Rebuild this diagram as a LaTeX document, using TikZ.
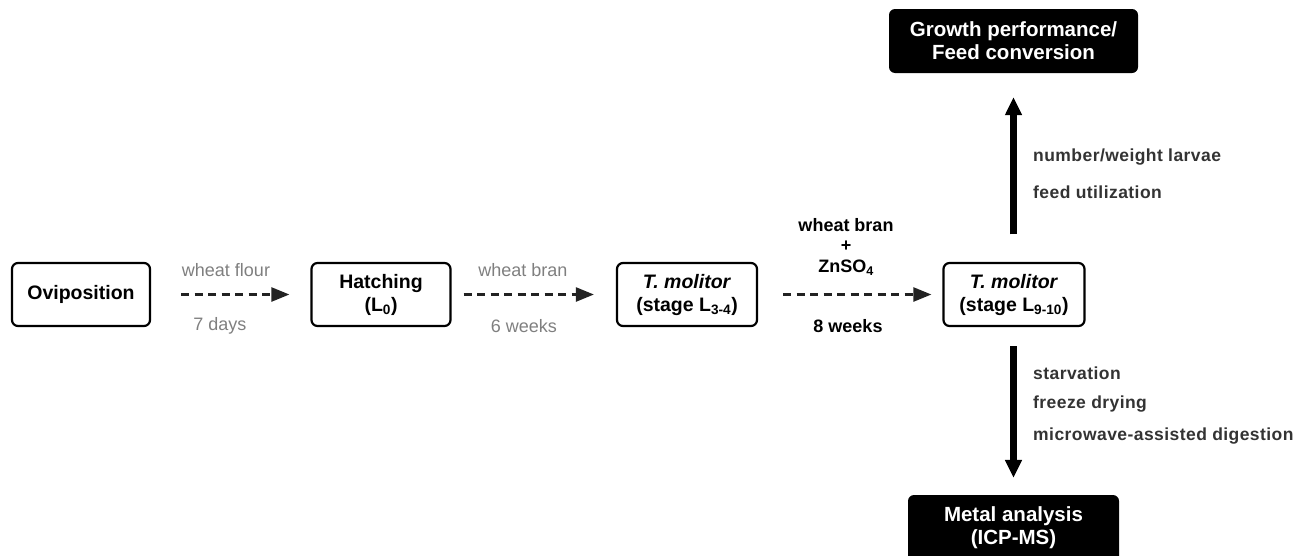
\documentclass[tikz,border=0pt]{standalone}
\usepackage{fontspec}
\setmainfont{Liberation Sans}
\newfontfamily\spacedfont[LetterSpace=2.5]{Liberation Sans}
\usetikzlibrary{arrows.meta}
\definecolor{lbl}{HTML}{7F7F7F}
\definecolor{dk}{HTML}{333333}
\definecolor{dsh}{HTML}{222222}
\tikzset{
  stagebox/.style={draw=black, line width=2.2pt, rounded corners=6pt, fill=white,
    minimum height=63pt, align=center, font=\fontsize{19.5}{23}\selectfont\bfseries, inner sep=0pt},
  resbox/.style={fill=black, text=white, rounded corners=6pt, align=center,
    font=\fontsize{20.5}{23}\selectfont\bfseries, inner sep=0pt},
  dasharrow/.style={draw=dsh, line width=2.4pt, dash pattern=on 8pt off 5.5pt,
    -{Triangle[length=18pt,width=14pt]}},
  bigarrow/.style={draw=black, line width=7pt, -{Triangle[length=18pt,width=16pt]}},
  graylbl/.style={text=lbl, font=\fontsize{18}{21}\selectfont, inner sep=0pt},
  boldlbl/.style={text=black, font=\fontsize{18}{21}\selectfont\bfseries, inner sep=0pt},
  sidelbl/.style={text=dk, font=\spacedfont\fontsize{17.5}{21}\selectfont\bfseries, anchor=west, inner sep=0pt},
}
\begin{document}
\begin{tikzpicture}[x=1pt,y=-1pt]
\clip (0,0) rectangle (1294,555);
\useasboundingbox (0,0) rectangle (1294,555);
% stage boxes
\node[stagebox, minimum width=138pt] (ovi) at (81,294.5) {Oviposition};
\node[stagebox, minimum width=139pt] (hat) at (381,294.5) {Hatching\\(L\textsubscript{0})};
\node[stagebox, minimum width=140pt] (t1) at (687,294.5) {\textit{T. molitor}\\(stage L\textsubscript{3-4})};
\node[stagebox, minimum width=141pt] (t2) at (1014,294.5) {\textit{T. molitor}\\(stage L\textsubscript{9-10})};
% result boxes
\node[resbox, minimum width=249pt, minimum height=64pt] (gr) at (1013.5,41) {Growth performance/\\Feed conversion};
\node[resbox, minimum width=211pt, minimum height=76pt, text depth=0pt] (met) at (1013.5,533) {};
\node[text=white, font=\fontsize{20.5}{23}\selectfont\bfseries, align=center, inner sep=0pt] (mett) at (1013.5,527.5) {Metal analysis\\(ICP-MS)};
% dashed arrows
\draw[dasharrow, shorten <=30pt, shorten >=21pt] (ovi.east) -- (hat.west);
\draw[dasharrow, shorten <=12pt, shorten >=22pt] (hat.east) -- (t1.west);
\draw[dasharrow, shorten <=25pt, shorten >=11pt] (t1.east) -- (t2.west);
% labels on dashed arrows
\node[graylbl] (l1a) at (226,270) {wheat flour};
\node[graylbl] (l1b) at (220,326) {7 days};
\node[graylbl] (l2a) at (523,270) {wheat bran};
\node[graylbl] (l2b) at (524,326) {6 weeks};
\node[boldlbl] (l3a) at (846,225) {wheat bran};
\node[boldlbl] (l3b) at (846,246) {+};
\node[boldlbl] (l3c) at (846,268) {ZnSO\textsubscript{4}};
\node[boldlbl] (l3d) at (848,326) {8 weeks};
% vertical arrows
\draw[bigarrow, shorten <=27.5pt, shorten >=24pt] (t2.north -| gr.south) -- (gr.south);
\draw[bigarrow, shorten <=19pt, shorten >=17pt] (t2.south -| met.north) -- (met.north);
% side labels
\node[sidelbl] (s1) at (1033,157) {number/weight larvae};
\node[sidelbl] (s2) at (1033,192) {feed utilization};
\node[sidelbl] (s3) at (1033,373) {starvation};
\node[sidelbl] (s4) at (1033,404) {freeze drying};
\node[sidelbl] (s5) at (1033,436) {microwave-assisted digestion};
\end{tikzpicture}
\end{document}
